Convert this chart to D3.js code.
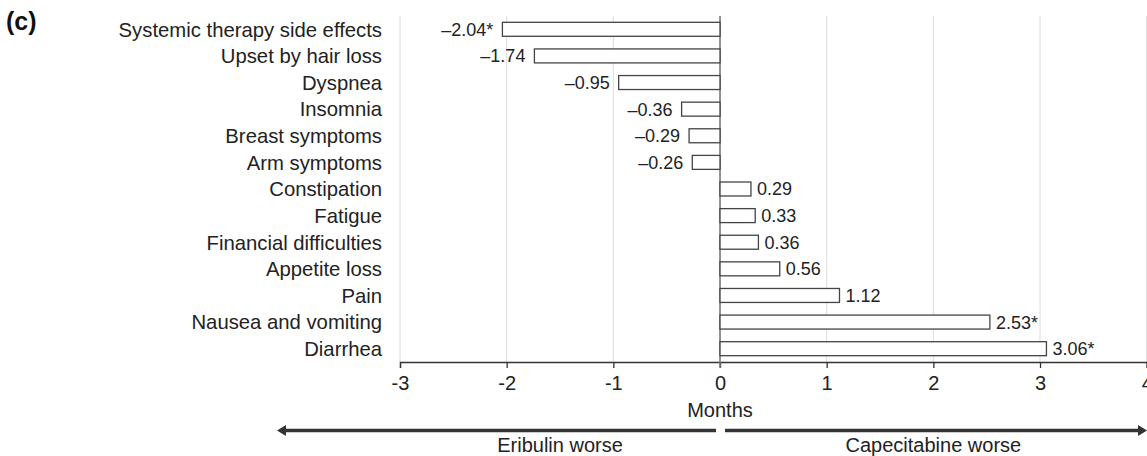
<!DOCTYPE html>
<html>
<head>
<meta charset="utf-8">
<script src="https://cdn.jsdelivr.net/npm/d3@7.9.0/dist/d3.min.js"></script>
<style>
  body { margin: 0; background: #fff; }
  svg { display: block; font-family: Arial, "Liberation Sans", sans-serif; }
</style>
</head>
<body>
<div id="chart"></div>
<script>
// data
const categories = [
  "Systemic therapy side effects", "Upset by hair loss", "Dyspnea", "Insomnia",
  "Breast symptoms", "Arm symptoms", "Constipation", "Fatigue",
  "Financial difficulties", "Appetite loss", "Pain", "Nausea and vomiting", "Diarrhea"
];
const values = [-2.04, -1.74, -0.95, -0.36, -0.29, -0.26, 0.29, 0.33, 0.36, 0.56, 1.12, 2.53, 3.06];
const valueLabels = ["–2.04*", "–1.74", "–0.95", "–0.36", "–0.29", "–0.26",
  "0.29", "0.33", "0.36", "0.56", "1.12", "2.53*", "3.06*"];
const xTicks = [-3, -2, -1, 0, 1, 2, 3, 4];
const axisTitle = "Months";
const sideLabels = ["Eribulin worse", "Capecitabine worse"];

const width = 1147, height = 456;
const plotTop = 16, axisY = 362;
const labelSize = 20.3;

const svg = d3.select("#chart").append("svg")
    .attr("width", width)
    .attr("height", height);

const x = d3.scaleLinear()
    .domain([-3, 4])
    .range([400, 1146.7]);

const y = d3.scaleBand()
    .domain(categories)
    .range([plotTop, axisY])
    .paddingInner(0.475)
    .paddingOuter(0.2375);

// panel letter
svg.append("text")
    .attr("x", 6)
    .attr("y", 30)
    .attr("font-size", 25)
    .attr("font-weight", "bold")
    .attr("fill", "#111")
    .text("(c)");

// gridlines
svg.append("g")
    .selectAll("line")
    .data(xTicks.filter(d => d !== 0))
    .enter()
    .append("line")
    .attr("x1", d => x(d))
    .attr("x2", d => x(d))
    .attr("y1", plotTop)
    .attr("y2", axisY)
    .attr("stroke", "#dcdcdc")
    .attr("stroke-width", 1);

// x axis
const xAxis = svg.append("g")
    .attr("transform", "translate(0," + axisY + ")")
    .call(d3.axisBottom(x)
        .tickValues(xTicks)
        .tickFormat(d => String(d))
        .tickSizeOuter(0)
        .tickSize(6)
        .tickPadding(8));
xAxis.select(".domain").attr("stroke", "#333").attr("stroke-width", 1.3);
xAxis.selectAll(".tick line").attr("stroke", "#333").attr("stroke-width", 1.3);
xAxis.selectAll("text")
    .attr("font-size", 20)
    .attr("font-family", "Arial, 'Liberation Sans', sans-serif")
    .attr("fill", "#222");

// zero line
svg.append("line")
    .attr("x1", x(0))
    .attr("x2", x(0))
    .attr("y1", plotTop)
    .attr("y2", axisY + 6)
    .attr("stroke", "#777")
    .attr("stroke-width", 1.6);

// category labels
svg.append("g")
    .selectAll("text")
    .data(categories)
    .enter()
    .append("text")
    .attr("x", 382)
    .attr("y", d => y(d) + y.bandwidth() / 2)
    .attr("dy", "0.36em")
    .attr("text-anchor", "end")
    .attr("font-size", labelSize)
    .attr("fill", "#222")
    .text(d => d);

// bars
svg.append("g")
    .selectAll("rect")
    .data(values)
    .enter()
    .append("rect")
    .attr("x", d => x(Math.min(0, d)))
    .attr("y", (d, i) => y(categories[i]))
    .attr("width", d => Math.abs(x(d) - x(0)))
    .attr("height", y.bandwidth())
    .attr("fill", "#fff")
    .attr("stroke", "#444")
    .attr("stroke-width", 1.3);

// value labels
svg.append("g")
    .selectAll("text")
    .data(values)
    .enter()
    .append("text")
    .attr("x", d => d < 0 ? x(d) - 9 : x(d) + 6)
    .attr("y", (d, i) => y(categories[i]) + y.bandwidth() / 2)
    .attr("dy", "0.36em")
    .attr("text-anchor", d => d < 0 ? "end" : "start")
    .attr("font-size", 18)
    .attr("fill", "#222")
    .text((d, i) => valueLabels[i]);

// axis title
svg.append("text")
    .attr("x", x(0))
    .attr("y", 416.5)
    .attr("text-anchor", "middle")
    .attr("font-size", 20)
    .attr("fill", "#222")
    .text(axisTitle);

// direction arrows
const arrowY = 430.5;
const arrows = svg.append("g").attr("fill", "#333").attr("stroke", "#333");
arrows.append("line")
    .attr("x1", x(0) - 4).attr("x2", 283)
    .attr("y1", arrowY).attr("y2", arrowY)
    .attr("stroke-width", 3.5);
arrows.append("path")
    .attr("d", `M277,${arrowY} L286,${arrowY - 5.5} L286,${arrowY + 5.5} Z`)
    .attr("stroke", "none");
arrows.append("line")
    .attr("x1", x(0) + 5).attr("x2", 1140)
    .attr("y1", arrowY).attr("y2", arrowY)
    .attr("stroke-width", 3.5);
arrows.append("path")
    .attr("d", `M1147,${arrowY} L1138,${arrowY - 5.5} L1138,${arrowY + 5.5} Z`)
    .attr("stroke", "none");

svg.append("text")
    .attr("x", x(-1.5))
    .attr("y", 451.5)
    .attr("text-anchor", "middle")
    .attr("font-size", 20)
    .attr("fill", "#222")
    .text(sideLabels[0]);

svg.append("text")
    .attr("x", x(2))
    .attr("y", 451.5)
    .attr("text-anchor", "middle")
    .attr("font-size", 20)
    .attr("fill", "#222")
    .text(sideLabels[1]);
</script>
</body>
</html>
